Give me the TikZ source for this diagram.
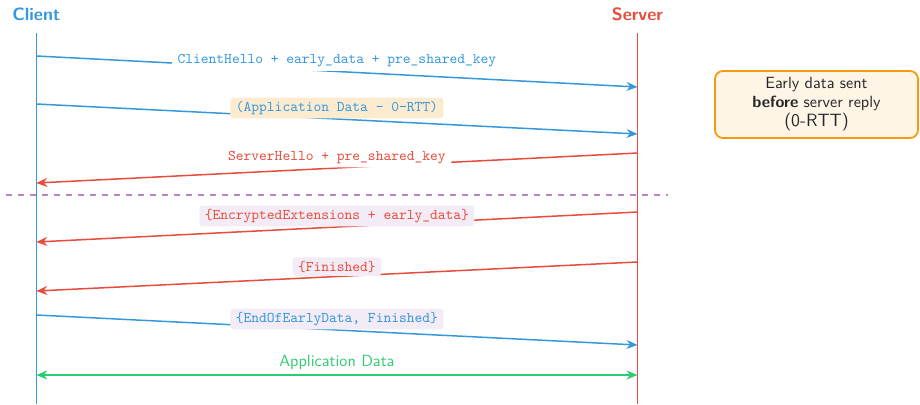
\documentclass[tikz,border=0pt]{standalone}
\usepackage{fontspec}
\setsansfont{lmsans10-regular}[Extension=.otf, BoldFont=lmsans10-bold]
\setmonofont{lmmono10-regular}[Extension=.otf]
\usetikzlibrary{arrows.meta}

\definecolor{cblue}{HTML}{3498DB}
\definecolor{cred}{HTML}{E74C3C}
\definecolor{cgreen}{HTML}{2ECC71}
\definecolor{cpurple}{HTML}{9B59B6}
\definecolor{corange}{HTML}{F39C12}

\tikzset{
  lifeline/.style={line width=1.6pt},
  msg/.style={line width=1.5pt, -{Stealth[length=11pt,width=9pt]}},
  biarrow/.style={line width=1.5pt, {Stealth[length=11pt,width=9pt]}-{Stealth[length=11pt,width=9pt]}},
  actor/.style={font=\sffamily\bfseries\fontsize{17.8}{20}\selectfont},
  lbl/.style={midway, above, font=\ttfamily\fontsize{14.8}{17}\selectfont,
              inner xsep=5.5pt, inner ysep=3.5pt, rounded corners=3pt},
  plainlbl/.style={lbl, fill=white},
  zerolbl/.style={lbl, fill=corange!20},
  enclbl/.style={lbl, fill=cpurple!12},
  sanslbl/.style={midway, above, font=\sffamily\fontsize{16.2}{19}\selectfont, inner sep=4.5pt},
  phase/.style={cpurple!75, line width=2pt, dash pattern=on 6pt off 6pt},
  notebox/.style={draw=corange, line width=1.8pt, fill=corange!10, rounded corners=8pt,
                  minimum width=203pt, minimum height=67pt, align=center,
                  text=black!85, font=\sffamily\fontsize{16.2}{18.5}\selectfont}
}

\begin{document}
\begin{tikzpicture}[x=1pt, y=-1pt]
  \useasboundingbox (0,0) rectangle (920,404);

  % actors
  \node[actor, text=cblue] (client) at (36.3,14.5) {Client};
  \node[actor, text=cred]  (server) at (637.5,14.5) {Server};

  % lifeline ends
  \coordinate (ctop) at (36.3,33);
  \coordinate (cbot) at (36.3,404);
  \coordinate (stop) at (637.5,33);
  \coordinate (sbot) at (637.5,404);

  % phase separator
  \coordinate (sepL) at (6,194.5);
  \coordinate (sepR) at (668,194.5);
  \draw[phase] (sepL) -- (sepR);

  % lifelines
  \draw[lifeline, cblue] (ctop) -- (cbot);
  \draw[lifeline, cred]  (stop) -- (sbot);

  % message anchors on the lifelines
  \coordinate (c1) at (36.3,56);   \coordinate (s1) at (637.5,87);
  \coordinate (c2) at (36.3,104);  \coordinate (s2) at (637.5,134);
  \coordinate (s3) at (637.5,153); \coordinate (c3) at (36.3,183);
  \coordinate (s4) at (637.5,212); \coordinate (c4) at (36.3,242);
  \coordinate (s5) at (637.5,262); \coordinate (c5) at (36.3,291);
  \coordinate (c6) at (36.3,315);  \coordinate (s6) at (637.5,345);
  \coordinate (c7) at (36.3,375);  \coordinate (s7) at (637.5,375);

  % messages
  \draw[msg, cblue] (c1) -- node[plainlbl, text=cblue] (m1)
    {ClientHello + early\_data + pre\_shared\_key} (s1);
  \draw[msg, cblue] (c2) -- node[zerolbl, text=cblue] (m2)
    {(Application Data - 0-RTT)} (s2);
  \draw[msg, cred] (s3) -- node[plainlbl, text=cred] (m3)
    {ServerHello + pre\_shared\_key} (c3);
  \draw[msg, cred] (s4) -- node[enclbl, text=cred] (m4)
    {\{EncryptedExtensions + early\_data\}} (c4);
  \draw[msg, cred] (s5) -- node[enclbl, text=cred] (m5)
    {\{Finished\}} (c5);
  \draw[msg, cblue] (c6) -- node[enclbl, text=cblue] (m6)
    {\{EndOfEarlyData, Finished\}} (s6);
  \draw[biarrow, cgreen] (c7) -- node[sanslbl, text=cgreen] (m7)
    {Application Data} (s7);

  % side note
  \node[notebox] (note) at (816.5,104.5)
    {Early data sent\\\textbf{before} server reply\\[1pt]{\fontsize{17.8}{20}\selectfont (0-RTT)}};
\end{tikzpicture}
\end{document}
